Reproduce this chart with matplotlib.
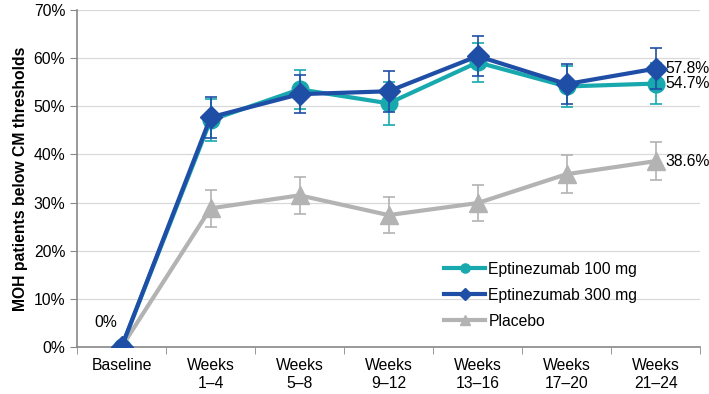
import matplotlib.pyplot as plt
import numpy as np

plt.rcParams['font.family'] = ['Liberation Sans', 'DejaVu Sans']

categories = ['Baseline', 'Weeks\n1–4', 'Weeks\n5–8', 'Weeks\n9–12', 'Weeks\n13–16', 'Weeks\n17–20', 'Weeks\n21–24']
epti100 = [0, 47.1, 53.5, 50.6, 59.1, 54.1, 54.7]
epti100_err = [0, 4.3, 4.0, 4.4, 4.1, 4.3, 4.2]
epti300 = [0, 47.7, 52.5, 53.1, 60.4, 54.6, 57.8]
epti300_err = [0, 4.2, 4.0, 4.2, 4.1, 4.1, 4.2]
placebo = [0, 28.8, 31.5, 27.4, 29.9, 35.9, 38.6]
placebo_err = [0, 3.9, 3.9, 3.8, 3.8, 3.9, 4.0]

teal = '#18A9AE'
blue = '#1F4EA6'
gray = '#B3B3B3'
fs = 11.3

fig = plt.figure(figsize=(7.09, 3.94), dpi=100)
ax = fig.add_axes([0.1086, 0.119, 0.879, 0.856])
x = np.arange(len(categories))

ax.errorbar(x[1:], placebo[1:], yerr=placebo_err[1:], fmt='none', ecolor=gray, elinewidth=1.2, capsize=4, capthick=1.2, zorder=2)
ax.plot(x, placebo, color=gray, lw=3, marker='^', ms=13, label='Placebo', zorder=3)
ax.errorbar(x[1:], epti100[1:], yerr=epti100_err[1:], fmt='none', ecolor=teal, elinewidth=1.2, capsize=4, capthick=1.2, zorder=4)
ax.plot(x, epti100, color=teal, lw=3, marker='o', ms=12, label='Eptinezumab 100 mg', zorder=5)
ax.errorbar(x[1:], epti300[1:], yerr=epti300_err[1:], fmt='none', ecolor=blue, elinewidth=1.2, capsize=4, capthick=1.2, zorder=6)
ax.plot(x, epti300, color=blue, lw=3, marker='D', ms=11, label='Eptinezumab 300 mg', zorder=7)

ax.text(x[-1] + 0.11, epti300[-1], f'{epti300[-1]}%', va='center', ha='left', fontsize=fs)
ax.text(x[-1] + 0.11, epti100[-1], f'{epti100[-1]}%', va='center', ha='left', fontsize=fs)
ax.text(x[-1] + 0.11, placebo[-1], f'{placebo[-1]}%', va='center', ha='left', fontsize=fs)
ax.text(x[0] - 0.05, 3.5, '0%', va='bottom', ha='right', fontsize=fs)

ax.set_xlim(-0.5, len(categories) - 0.5)
ax.set_ylim(0, 70)
ax.set_yticks(np.arange(0, 71, 10))
ax.set_yticklabels([f'{v}%' for v in range(0, 71, 10)], fontsize=fs)
ax.set_xticks(x)
ax.set_xticklabels(categories, fontsize=fs)
ax.set_xticks(np.arange(-0.5, len(categories), 1), minor=True)
ax.tick_params(axis='x', which='major', length=0, pad=8)
ax.tick_params(axis='x', which='minor', length=5, color='#888888')
ax.tick_params(axis='y', length=5, color='#888888')
ax.grid(axis='y', color='#D9D9D9', lw=0.9)
ax.set_axisbelow(True)
for s in ['top', 'right']:
    ax.spines[s].set_visible(False)
for s in ['left', 'bottom']:
    ax.spines[s].set_color('#888888')
    ax.spines[s].set_linewidth(1.2)

ax.set_ylabel('MOH patients below CM thresholds', fontsize=fs, fontweight='bold')

handles, labels = ax.get_legend_handles_labels()
order = [1, 2, 0]
ax.legend([handles[i] for i in order], [labels[i] for i in order], loc='lower left',
          bbox_to_anchor=(0.567, 0.012), frameon=False, fontsize=fs, handlelength=2.6,
          markerscale=0.55, labelspacing=0.7, handletextpad=0.2)

fig.savefig('out.png', dpi=100)
